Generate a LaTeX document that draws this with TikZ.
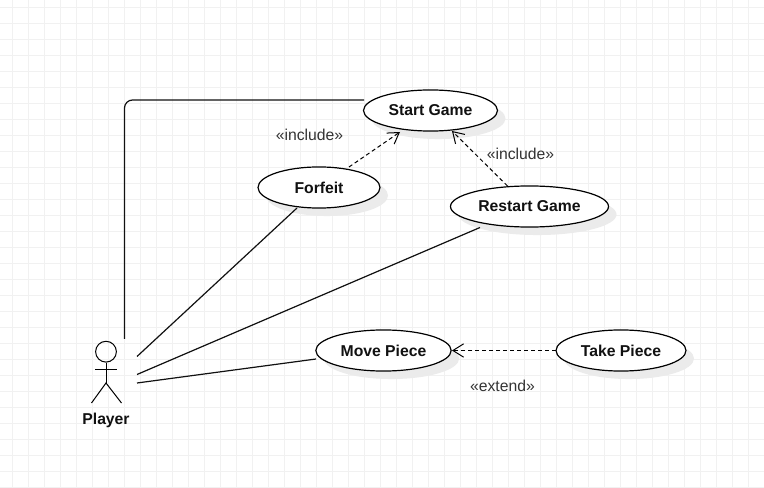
\documentclass[tikz,border=0pt]{standalone}
\usepackage{fontspec}
\setmainfont{Liberation Sans}
\usetikzlibrary{shapes.geometric,arrows.meta,shadows}
\definecolor{gridc}{HTML}{F1F1F1}
\definecolor{shadowc}{HTML}{EBEBEB}
\definecolor{inkc}{HTML}{111111}
\definecolor{labelc}{HTML}{333333}
\tikzset{
  usecase/.style={ellipse,draw=black,fill=white,line width=0.9pt,inner sep=0pt,
    minimum height=30.8pt,text=inkc,font=\fontsize{11.8}{14}\selectfont\bfseries,
    general shadow={shadow xshift=6pt,shadow yshift=-6pt,fill=shadowc}},
  assoc/.style={draw=inkc,line width=0.9pt},
  dep/.style={draw=black,line width=0.75pt,dash pattern=on 3pt off 2.2pt,
    -{Straight Barb[length=8pt,width=10pt,line width=0.75pt,sep=0pt]}},
  stereo/.style={text=labelc,font=\fontsize{11.8}{14}\selectfont,inner sep=0pt},
  stick/.style={draw=black,line width=0.75pt},
  actorlabel/.style={text=inkc,font=\fontsize{11.8}{14}\selectfont\bfseries,inner sep=0pt}
}
\begin{document}
\begin{tikzpicture}[x=0.75pt,y=-0.75pt]
\useasboundingbox (0,0) rectangle (764,488);
\fill[white] (0,0) rectangle (764,488);
\foreach \gx in {12.5,28.5,...,764} \draw[gridc,line width=0.6pt] (\gx,0) -- (\gx,488);
\foreach \gy in {7.5,23.5,...,488} \draw[gridc,line width=0.6pt] (0,\gy) -- (764,\gy);
% use cases
\node[usecase,minimum width=100.5pt] (start) at (430.5,110.5) {Start Game};
\node[usecase,minimum width=91.5pt] (forfeit) at (319,187.5) {Forfeit};
\node[usecase,minimum width=118.5pt] (restart) at (529.5,206.5) {Restart Game};
\node[usecase,minimum width=101.5pt] (move) at (383.5,350.5) {Move Piece};
\node[usecase,minimum width=97.5pt] (take) at (621,350.5) {Take Piece};
% actor
\node[circle,stick,minimum size=15.6pt,inner sep=0pt] (head) at (106,351.7) {};
\coordinate (hip) at (106,383);
\coordinate (armL) at (95,369.5);
\coordinate (armR) at (117,369.5);
\coordinate (legL) at (91.5,403);
\coordinate (legR) at (121.5,403);
\draw[stick] (head.south) -- (hip);
\draw[stick] (armL) -- (armR);
\draw[stick] (legL) -- (hip) -- (legR);
\node[actorlabel] (player) at (106,420.5) {Player};
% free ends by the actor
\coordinate (a0) at (124.5,339);
\coordinate (a1) at (137,356.5);
\coordinate (a2) at (137,374.5);
\coordinate (a3) at (137,383);
\coordinate (startW) at (364,100);
% connector ends at the use-case bounding boxes
\coordinate (forfeitB) at (297,208);
\coordinate (restartB) at (480,227.5);
\coordinate (moveW) at (316,359);
\coordinate (forfeitT) at (349,167);
\coordinate (restartT) at (507.5,186);
\coordinate (startB1) at (400,132);
\coordinate (startB2) at (452,131);
\coordinate (takeW) at (555.5,350.5);
\coordinate (moveE) at (452,350.5);
% associations
\draw[assoc,rounded corners=6pt] (a0) |- (startW);
\draw[assoc] (a1) -- (forfeitB);
\draw[assoc] (a2) -- (restartB);
\draw[assoc] (a3) -- (moveW);
% dependencies
\draw[dep] (forfeitT) -- (startB1);
\draw[dep] (restartT) -- (startB2);
\draw[dep] (takeW) -- (moveE);
% labels
\node[stereo] (l1) at (309.5,135) {«include»};
\node[stereo] (l2) at (520.5,153.5) {«include»};
\node[stereo] (l3) at (502.5,385.5) {«extend»};
\end{tikzpicture}
\end{document}
